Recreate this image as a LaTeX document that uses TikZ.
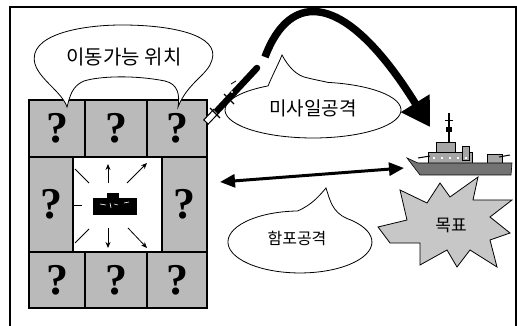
\documentclass[tikz,border=0pt]{standalone}
\usepackage{fontspec}
\setmainfont{Liberation Serif}
\newfontfamily\kr{Noto Sans CJK KR}
\usetikzlibrary{arrows.meta}

\tikzset{
  cell/.style={draw=black, line width=1.4pt, fill=black!27, inner sep=0pt,
    font=\fontsize{44}{44}\selectfont\bfseries},
  callout/.style={draw=black, line width=0.8pt, fill=white},
  ktext/.style={font=\kr\fontsize{#1}{#1}\selectfont, inner sep=0pt},
  ktext/.default=18,
  moveline/.style={line width=0.8pt},
  movearrow/.style={line width=0.8pt, -{Stealth[length=6pt,width=5pt]}},
  shipgray/.style={fill=black!35, draw=black, line width=0.6pt},
}

\begin{document}
\begin{tikzpicture}[x=1pt,y=-1pt]
\useasboundingbox (0,0) rectangle (517,326);

% outer frame
\draw[line width=1.2pt] (10,326) -- (10,7) -- (516,7) -- (516,326);

% grid of candidate positions
\node[cell, minimum width=56pt, minimum height=57pt] (c11) at (57,128.5) {?};
\node[cell, minimum width=62pt, minimum height=57pt] (c12) at (116,128.5) {?};
\node[cell, minimum width=60pt, minimum height=57pt] (c13) at (177,128.5) {?};
\node[cell, minimum width=44pt, minimum height=95pt] (c21) at (51,204.5) {?};
\node[draw=black, line width=1.4pt, fill=white, minimum width=89pt, minimum height=95pt] (c22) at (117.5,204.5) {};
\node[cell, minimum width=45pt, minimum height=95pt] (c23) at (184.5,204.5) {?};
\node[cell, minimum width=56pt, minimum height=56pt] (c31) at (57,280) {?};
\node[cell, minimum width=62pt, minimum height=56pt] (c32) at (116,280) {?};
\node[cell, minimum width=60pt, minimum height=56pt] (c33) at (177,280) {?};

% tank in the centre cell
\node[fill=black, minimum width=44pt, minimum height=17pt, inner sep=0pt] (tank) at (115,206.5) {};
\fill (107,193.5) rectangle (119,199);
\draw[white, line width=0.6pt] (100,204) -- (106,205) (110,203) -- (111,208) (114,204) -- (118,205) (124,203) -- (129,202);

% possible moves
\draw[movearrow] (108,183) -- (108,164);
\draw[movearrow] (127,183) -- (147,163);
\draw[movearrow] (108,228) -- (108,248);
\draw[movearrow] (128,228) -- (147,248);
\draw[moveline] (89,183) -- (75,169);
\draw[moveline] (89,229) -- (75,243);
\draw[moveline] (82,205) -- (74,205);

% callout: movable positions
\draw[callout] (67,107) .. controls (62,92) and (40,80) .. (35,64)
  .. controls (27,35) and (80,25) .. (122,25)
  .. controls (172,25) and (220,35) .. (212,60)
  .. controls (208,75) and (188,82) .. (178,107)
  .. controls (180,95) and (178,84) .. (165,81)
  .. controls (135,75) and (100,76) .. (84,81)
  .. controls (72,86) and (70,96) .. (67,107) -- cycle;
\node[ktext=20] (t1) at (124,57) {이동가능 위치};

% missile flight path
\coordinate (fstart) at (265,57);
\coordinate (ftip) at (430,127);
\draw[line width=7.5pt, -{Triangle[length=28pt,width=32pt]}]
  (fstart) .. controls (290,-10) and (345,-10) .. (ftip);

% callout: missile attack
\draw[callout] (328,82.4) arc[start angle=-80.2, end angle=239.3, x radius=88, y radius=28]
  .. controls (272,76) and (278,65) .. (282,55)
  .. controls (288,66) and (296,76) .. (308,78)
  .. controls (316,80) and (322,81) .. (328,82.4) -- cycle;
\node[ktext=19] (t2) at (313,108) {미사일공격};

% missile: black body, outlined tail section and fins
\draw[line width=6.5pt, line cap=round] (216,112) -- (257,68);
\draw[fill=white, draw=black, line width=1pt]
  (208.2,124.1) -- (218.2,113.5) -- (213.8,109.3) -- (203.8,119.9) -- cycle;
\draw[line width=1.2pt] (210,108) -- (220,118) (224,94) -- (234,104);
\fill[white] (232,92) circle (1.2pt);
\draw[line width=0.8pt] (231,84) -- (236,81);

% target ship
\coordinate (ship) at (458,160);
\draw[line width=1.2pt] (449,113) -- (449,143);
\draw[line width=1pt] (445,121) -- (453,121);
\fill (446,127) rectangle (452,132);
\draw[shipgray] (436,142) rectangle (455,152);
\draw[shipgray] (428,152) rectangle (472,163);
\draw[shipgray] (462,146) rectangle (469,160);
\draw[shipgray] (487,154) rectangle (502,163);
\draw[line width=1pt] (418,158) -- (430,156) (499,157) -- (510,155);
\draw[fill=black!55, draw=black, line width=0.6pt]
  (407,158) -- (418,163) -- (512,163) -- (511,175) -- (420,175) -- cycle;
\foreach \x in {433,441,449,457,465} \fill[white] (\x,157) rectangle (\x+2,159);

% gun fire between the positions and the ship
\coordinate (gleft) at (220,182);
\coordinate (gright) at (404,168);
\draw[line width=3pt, {Triangle[length=15pt,width=13pt]}-{Triangle[length=15pt,width=13pt]}] (gleft) -- (gright);

% callout: gun attack
\draw[callout] (347,218.5) arc[start angle=-49.2, end angle=268, x radius=72, y radius=31]
  .. controls (312,205) and (320,195) .. (326,188)
  .. controls (330,200) and (332,212) .. (347,218.5) -- cycle;
\node[ktext=16] (t3) at (297,238.5) {함포공격};

% target burst
\draw[fill=black!22, draw=black, line width=0.8pt]
  (378,227) -- (407,220) -- (400,190) -- (427,203) -- (440,183) -- (450,197)
  -- (478,177) -- (473,200) -- (512,200) -- (490,217) -- (510,233) -- (490,240)
  -- (497,267) -- (470,250) -- (457,267) -- (447,250) -- (420,265) -- (420,243)
  -- (390,243) -- cycle;
\node[ktext=17] (t4) at (451,225) {목표};
\end{tikzpicture}
\end{document}
